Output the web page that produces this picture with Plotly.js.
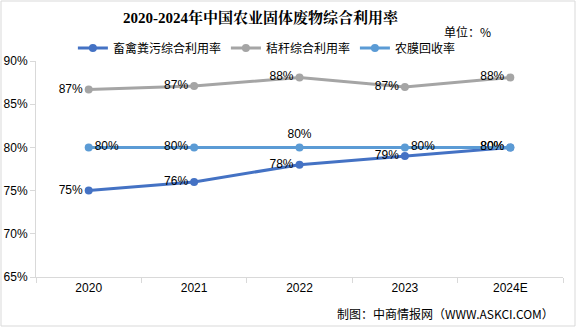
<!DOCTYPE html>
<html><head><meta charset="utf-8">
<script src="https://cdn.plot.ly/plotly-3.0.1.min.js"></script>
<style>body{margin:0;background:#fff}#c{width:576px;height:327px}</style>
</head><body><div id="c"></div>
<script>
const years = ['2020','2021','2022','2023','2024E'];
const livestock = [75, 76, 78, 79, 80];
const straw = [86.7, 87.1, 88.1, 87.0, 88.1];
const film = [80, 80, 80, 80, 80];
const livestockLabels = ['75%','76%','78%','79%','80%'];
const strawLabels = ['87%','87%','88%','87%','88%'];
const filmLabels = ['80%','80%','80%','80%','80%'];
const yTicks = [65,70,75,80,85,90];
const yTickText = ['65%','70%','75%','80%','85%','90%'];

const fontTxt = {family:'Liberation Sans, Noto Sans CJK SC, sans-serif', size:12, color:'#000'};
const cjk = 'Noto Sans CJK SC, sans-serif';

function tr(name, y, labels, color, pos){
  return {type:'scatter', mode:'lines+markers+text', name:name, x:years, y:y,
    text:labels, textposition:pos, textfont:fontTxt,
    line:{color:color, width:3}, marker:{color:color, size:8}, cliponaxis:false};
}
const data = [
  tr('畜禽粪污综合利用率', livestock, livestockLabels, '#4472C4', 'middle left'),
  tr('秸秆综合利用率', straw, strawLabels, '#A5A5A5', 'middle left'),
  tr('农膜回收率', film, filmLabels, '#5B9BD5', ['middle right','middle left','top center','middle right','middle left'])
];
const layout = {
  width:576, height:327,
  margin:{l:36, r:13, t:61, b:50},
  paper_bgcolor:'#fff', plot_bgcolor:'#fff',
  showlegend:true,
  legend:{orientation:'h', x:0.07, xanchor:'left', y:1.06, yanchor:'middle',
    font:{family:cjk, size:12, color:'#000'}, itemwidth:30, tracegroupgap:0},
  xaxis:{type:'category', range:[-0.5,4.5], showline:true, linecolor:'#d9d9d9', linewidth:1,
    ticks:'outside', tickson:'boundaries', ticklen:5, tickcolor:'#d9d9d9',
    showgrid:false, zeroline:false, tickfont:fontTxt},
  yaxis:{range:[65,90], tickvals:yTicks, ticktext:yTickText, showline:true, linecolor:'#d9d9d9',
    linewidth:1, ticks:'outside', ticklen:5, tickcolor:'#d9d9d9', showgrid:false, zeroline:false,
    tickfont:fontTxt},
  annotations:[
    {text:'<b>2020-2024年中国农业固体废物综合利用率</b>', xref:'paper', yref:'paper',
      x:(261-36)/527, y:(277-17)/216, xanchor:'center', yanchor:'middle', showarrow:false,
      font:{family:'Liberation Serif, Noto Serif CJK SC, Noto Sans CJK SC, serif', size:15, color:'#000'}},
    {text:'单位：%', xref:'paper', yref:'paper', x:(493-36)/527, y:(277-31)/216,
      xanchor:'right', yanchor:'middle', showarrow:false, font:{family:cjk, size:12, color:'#000'}},
    {text:'制图：中商情报网（WWW.ASKCI.COM）', xref:'paper', yref:'paper', x:(556-36)/527, y:(277-313)/216,
      xanchor:'right', yanchor:'middle', showarrow:false, font:{family:cjk, size:12, color:'#000'}}
  ],
  shapes:[
    {type:'rect', xref:'paper', yref:'paper', x0:(1-36)/527, x1:(575-36)/527, y0:(277-326)/216, y1:(277-1)/216,
      line:{color:'#d9d9d9', width:1}}
  ]
};
Plotly.newPlot('c', data, layout, {staticPlot:true});
</script></body></html>
